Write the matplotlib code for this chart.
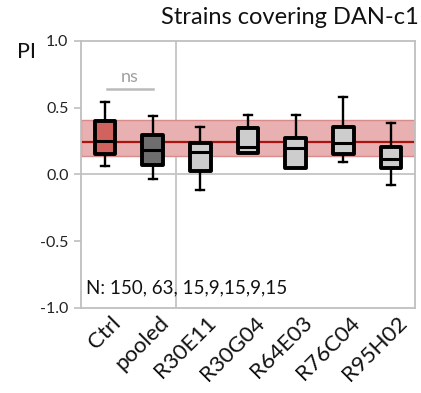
import matplotlib
matplotlib.use("Agg")
import matplotlib.pyplot as plt
import matplotlib.transforms as mtransforms

plt.rcParams['font.family'] = ['Lato', 'DejaVu Sans']

categories = ["Ctrl", "pooled", "R30E11", "R30G04", "R64E03", "R76C04", "R95H02"]
whis_low = [0.061, -0.033, -0.114, 0.160, 0.050, 0.094, -0.079]
q1 = [0.152, 0.071, 0.025, 0.160, 0.050, 0.157, 0.050]
medians = [0.249, 0.183, 0.165, 0.203, 0.200, 0.236, 0.119]
q3 = [0.400, 0.297, 0.233, 0.348, 0.277, 0.355, 0.208]
whis_high = [0.540, 0.437, 0.355, 0.444, 0.444, 0.580, 0.386]
n_values = ["150", "63", "15", "9", "15", "9", "15"]
ctrl_band = [0.135, 0.406]
ctrl_median = 0.247
yticks = [-1.0, -0.5, 0.0, 0.5, 1.0]
title = "Strains covering DAN-c1"

face_colors = ["#D0635D", "#6E6E6E"] + ["#CDCDCD"] * 5

fig = plt.figure(figsize=(4.21, 3.93), dpi=100)
ax = fig.add_axes([0.1924, 0.2163, 0.7933, 0.6794])

stats = []
for i, c in enumerate(categories):
    stats.append(dict(label=c, whislo=whis_low[i], q1=q1[i], med=medians[i],
                      q3=q3[i], whishi=whis_high[i], fliers=[]))

ax.axhspan(ctrl_band[0], ctrl_band[1], facecolor="#E8B0B0", edgecolor="#D98A8A",
           linewidth=1.0, zorder=1)
ax.axhline(ctrl_median, color="#A8140E", lw=1.6, zorder=1.5)
ax.axhline(0.0, color="#C4C4C4", lw=1.3, zorder=0.5)
ax.axvline(1.5, color="#C4C4C4", lw=1.3, zorder=0.5)

bp = ax.bxp(stats, positions=range(len(categories)), widths=0.43, patch_artist=True,
            showfliers=False,
            boxprops=dict(linewidth=2.8, edgecolor="black", joinstyle="round"),
            medianprops=dict(color="black", linewidth=2.2),
            whiskerprops=dict(color="black", linewidth=1.7),
            capprops=dict(color="black", linewidth=1.7),
            capwidths=0.17, zorder=3)
for patch, fc in zip(bp["boxes"], face_colors):
    patch.set_facecolor(fc)
    patch.set_zorder(3)

ax.set_xlim(-0.5, len(categories) - 0.5)
ax.set_ylim(-1.0, 1.0)
ax.set_yticks(yticks)
ax.set_yticklabels([f"{v:.1f}" for v in yticks], fontsize=11.5, color="#222222")
ax.tick_params(axis='y', length=5, width=1.2, color="#BFBFBF", pad=4)
ax.tick_params(axis='x', length=0, pad=2)
ax.set_xticks(range(len(categories)))
ax.set_xticklabels(categories, rotation=45, ha="right", rotation_mode="anchor",
                   fontsize=16, color="#111111")
offset = mtransforms.ScaledTranslation(0.06, -0.02, fig.dpi_scale_trans)
for lbl in ax.get_xticklabels():
    lbl.set_transform(lbl.get_transform() + offset)

for s in ax.spines.values():
    s.set_color("#BFBFBF")
    s.set_linewidth(1.3)

# significance
ax.plot([0.05, 1.0], [0.64, 0.64], color="#BBBBBB", lw=1.8, zorder=2)
ax.text(0.52, 0.67, "ns", color="#A0A0A0", fontsize=13, ha="center", va="bottom")

ax.text(0.015, 0.045, "N: " + ", ".join(n_values[:2]) + ", " + ",".join(n_values[2:]),
        transform=ax.transAxes, fontsize=13.5, color="#111111", ha="left", va="bottom")

fig.text(0.995, 0.955, title, ha="right", va="center", fontsize=17, color="#111111")
fig.text(0.04, 0.868, "PI", ha="left", va="center", fontsize=15.5, color="#111111")

fig.savefig("out.png", dpi=100)
